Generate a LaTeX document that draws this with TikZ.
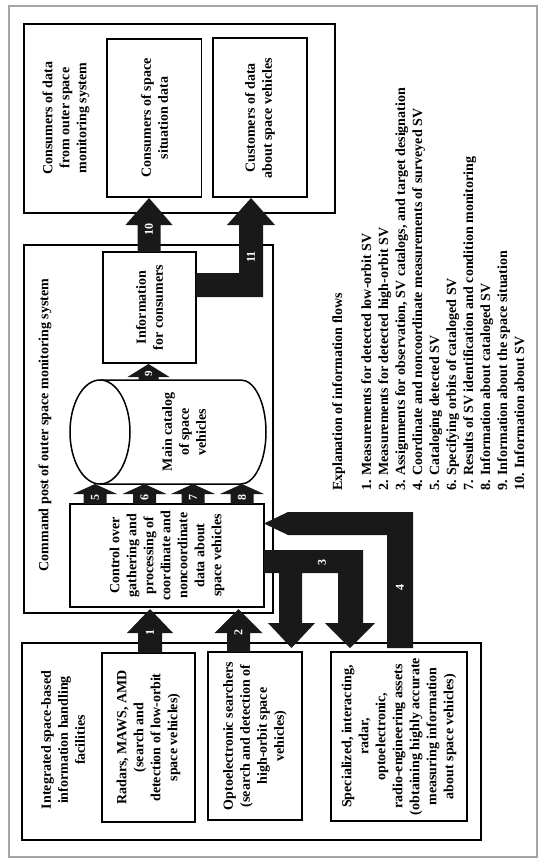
\documentclass[tikz,border=0pt]{standalone}
\usepackage{fontspec}
\setmainfont{Liberation Serif}
\newcommand\uparr[6]{\fill[blk] ({#1-#6},#4) -- ({#1-#6},#3) -- ({#1-#5},#3) -- (#1,#2) -- ({#1+#5},#3) -- ({#1+#6},#3) -- ({#1+#6},#4) -- cycle;}
\tikzset{
  box/.style={draw=black, line width=1.5pt},
  bigbox/.style={draw=black, line width=2pt},
  txt/.style={rotate=90, align=center, font=\fontsize{14}{17}\selectfont\bfseries, inner sep=0pt},
  lbl/.style={rotate=90, text=white, font=\fontsize{12}{12}\selectfont\bfseries, inner sep=0pt},
  blk/.style={fill=black!90},
}
\begin{document}
\begin{tikzpicture}[x=1pt,y=-1pt]
\useasboundingbox (0,0) rectangle (547,864);
% frame
\draw[draw=black!35, line width=1.8pt] (9,6) rectangle (537,857);
% consumers
\draw[bigbox] (23.5,24.5) rectangle (334.5,213);
\draw[box] (107,39) rectangle (201.5,197);
\draw[box] (213,38) rectangle (307,197);
\node[txt] (cons) at (66,118) {Consumers of data\\from outer space\\monitoring system};
\node[txt] (consA) at (154.5,118) {Consumers of space\\situation data};
\node[txt] (consB) at (260,118) {Customers of data\\about space vehicles};
% command post
\draw[bigbox] (23.5,245) rectangle (273,613);
\node[txt] (cp) at (45,425) {Command post of outer space monitoring system};
\draw[box] (103,252) rectangle (196,363);
\node[txt] (info) at (149.5,307.5) {Information\\for consumers};
% cylinder
\draw[line width=1.5pt, fill=white] (100,380) -- (241,380)
  .. controls (254.8,380) and (266,403.3) .. (266,432)
  .. controls (266,460.7) and (254.8,484) .. (241,484) -- (100,484);
\draw[line width=1.5pt] (100,432) ellipse [x radius=30, y radius=52];
\node[txt] (cat) at (184,432) {Main catalog\\of space\\vehicles};
\draw[box] (70,504) rectangle (264,607);
\node[txt] (ctrl) at (167,555.5) {Control over\\gathering and\\processing of\\coordinate and\\noncoordinate\\data about\\space vehicles};
% integrated
\draw[bigbox] (22,643) rectangle (481,839.5);
\node[txt] (integ) at (63,740) {Integrated space-based\\information handling\\facilities};
\draw[box] (102,653) rectangle (195,822);
\node[txt] (radar) at (148.5,737.5) {Radars, MAWS, AMD\\(search and\\detection of low-orbit\\space vehicles)};
\draw[box] (208,652) rectangle (302,820);
\node[txt] (opto) at (255,736) {Optoelectronic searchers\\(search and detection of\\high-orbit space\\vehicles)};
\draw[box] (331,652) rectangle (467,821);
\node[txt] (spec) at (399,736.5) {Specialized, interacting,\\radar,\\optoelectronic,\\radio-engineering assets\\(obtaining highly accurate\\measuring information\\about space vehicles)};
% legend
\node[rotate=90, anchor=north west, align=left, inner sep=0pt, font=\fontsize{14}{17}\selectfont\bfseries] (legend) at (332,491) {Explanation of information flows\\[12pt]
1. Measurements for detected low-orbit SV\\
2. Measurements for detected high-orbit SV\\
3. Assignments for observation, SV catalogs, and target designation\\
4. Coordinate and noncoordinate measurements of surveyed SV\\
5. Cataloging detected SV\\
6. Specifying orbits of cataloged SV\\
7. Results of SV identification and condition monitoring\\
8. Information about cataloged SV\\
9. Information about the space situation\\
10. Information about SV};
% arrows
\uparr{150}{609}{633}{653}{23}{12}
\uparr{238.5}{609}{633}{652}{24}{11.5}
\uparr{95}{484}{494}{504}{22}{11.5}
\uparr{144.5}{484}{494}{504}{22}{11.5}
\uparr{193}{484}{494}{504}{22}{11.5}
\uparr{242}{484}{494}{504}{22}{11.5}
\uparr{148.5}{364}{377}{380}{21}{10}
\uparr{149}{198}{225}{252}{23.5}{11.5}
\fill[blk] (196,273) -- (239,273) -- (239,225) -- (227,225) -- (251,198) -- (275,225) -- (263,225) -- (263,297) -- (196,297) -- cycle;
\fill[blk] (264,550) -- (363,550) -- (363,623) -- (375,623) -- (350,648) -- (325,623) -- (338,623) -- (338,573) -- (302,573) -- (302,623) -- (315,623) -- (291.5,648) -- (268,623) -- (279,623) -- (279,573) -- (264,573) -- cycle;
\fill[blk] (413,648) -- (413,512) -- (288,512) -- (264,523.5) -- (288,535) -- (387,535) -- (387,648) -- cycle;
% labels
\node[lbl] (l1) at (150,632) {1};
\node[lbl] (l2) at (238.5,632) {2};
\node[lbl] (l3) at (322,562) {3};
\node[lbl] (l4) at (400,587) {4};
\node[lbl] (l5) at (95,497) {5};
\node[lbl] (l6) at (144.5,497) {6};
\node[lbl] (l7) at (193,497) {7};
\node[lbl] (l8) at (242,497) {8};
\node[lbl, font=\fontsize{11}{11}\selectfont\bfseries] (l9) at (148.5,374) {9};
\node[lbl] (l10) at (149,229) {10};
\node[lbl] (l11) at (251,257) {11};
\end{tikzpicture}
\end{document}
